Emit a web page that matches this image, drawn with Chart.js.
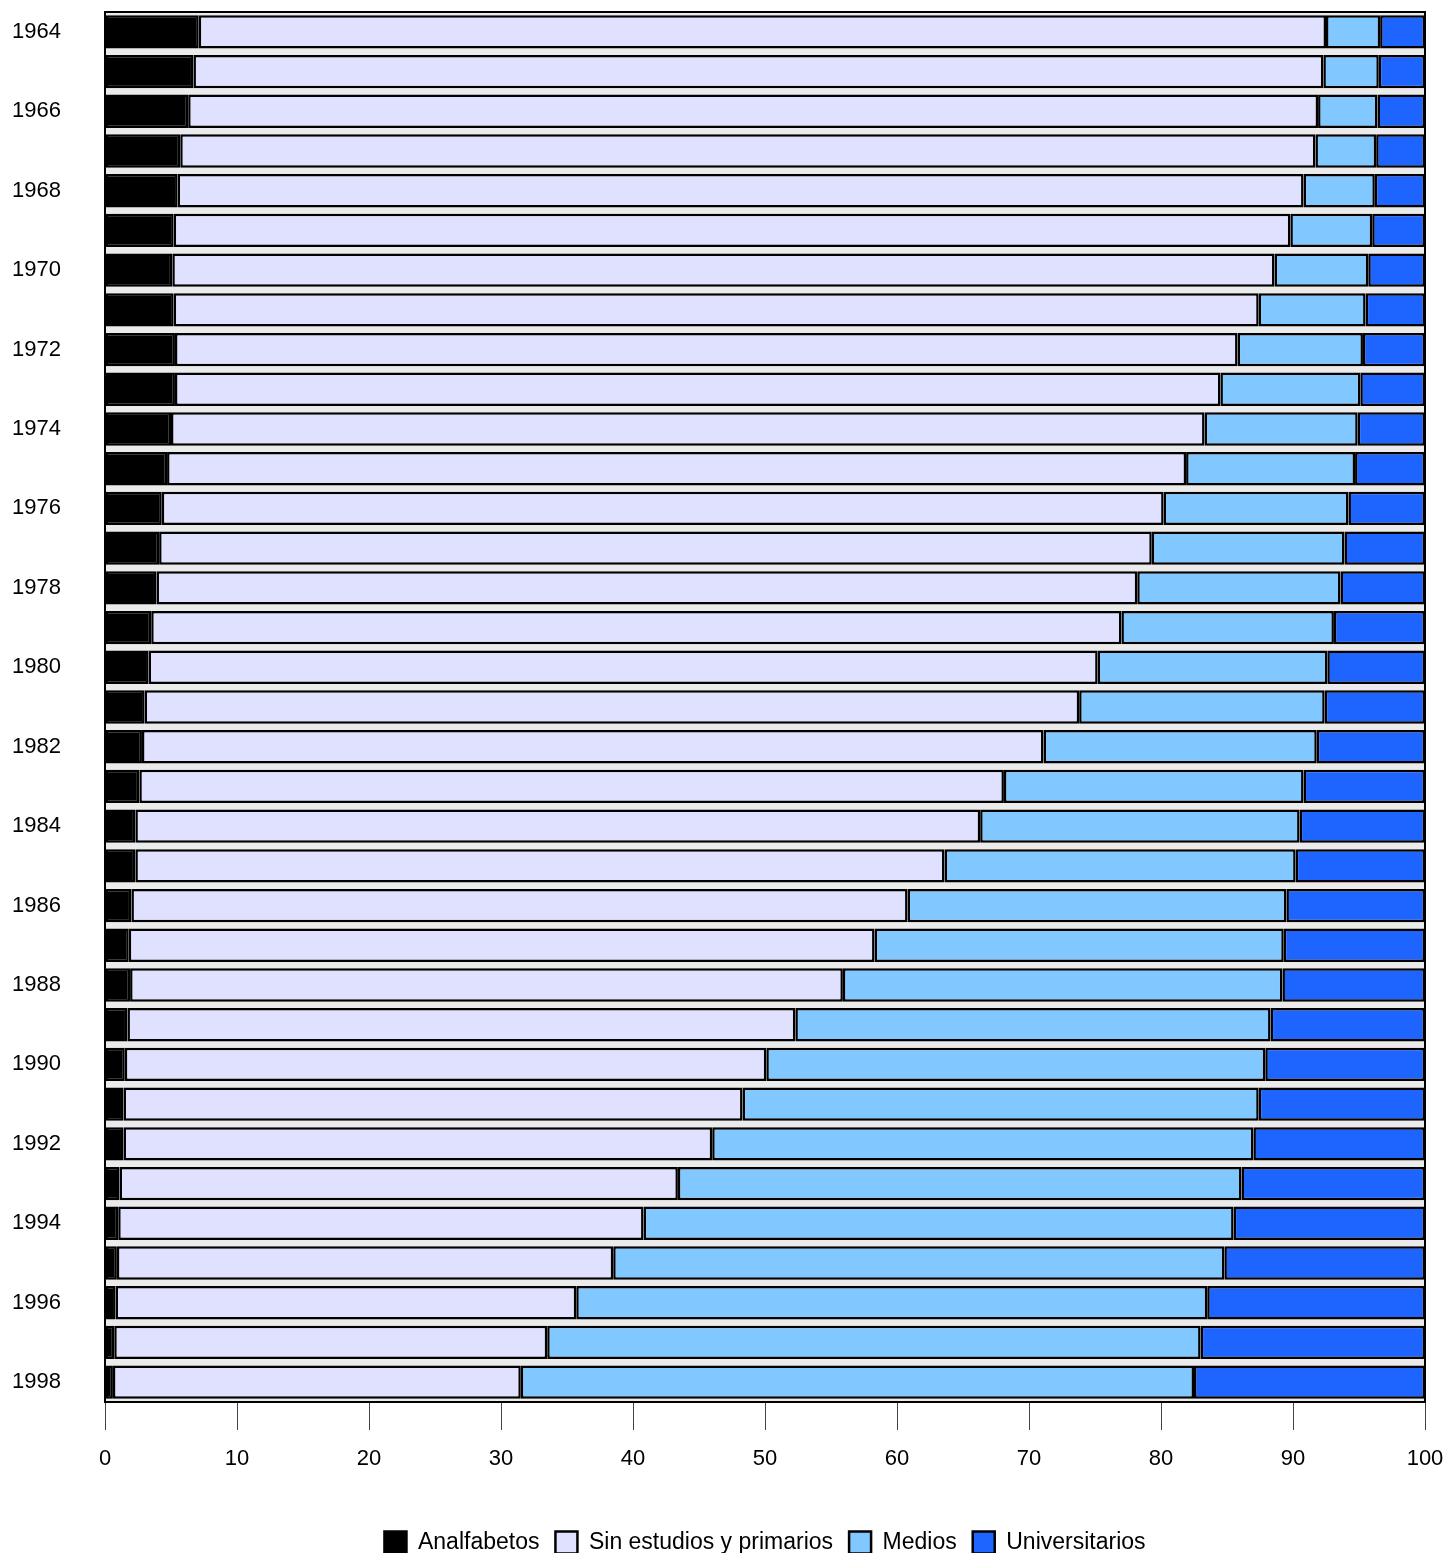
<!DOCTYPE html>
<html>
<head>
<meta charset="utf-8">
<script src="https://cdn.jsdelivr.net/npm/chart.js@4.4.1/dist/chart.umd.min.js"></script>
<style>
  html, body { margin: 0; padding: 0; background: #fff; }
  canvas { display: block; }
</style>
</head>
<body>
<canvas id="chart" width="1447" height="1553"></canvas>
<script>
const years = ['1964', '1965', '1966', '1967', '1968', '1969', '1970', '1971', '1972', '1973',
  '1974', '1975', '1976', '1977', '1978', '1979', '1980', '1981', '1982', '1983',
  '1984', '1985', '1986', '1987', '1988', '1989', '1990', '1991', '1992', '1993',
  '1994', '1995', '1996', '1997', '1998']

const analfabetos = [7.1, 6.7, 6.3, 5.7, 5.5, 5.2, 5.1, 5.2, 5.3, 5.3,
  5.0, 4.7, 4.3, 4.1, 3.9, 3.5, 3.3, 3.0, 2.8, 2.6,
  2.3, 2.3, 2.0, 1.8, 1.9, 1.7, 1.5, 1.4, 1.4, 1.1,
  1.0, 0.9, 0.8, 0.7, 0.6]

const sinEstudios = [85.4, 85.6, 85.6, 86.0, 85.3, 84.6, 83.5, 82.2, 80.5, 79.2,
  78.3, 77.2, 75.9, 75.2, 74.3, 73.5, 71.9, 70.8, 68.3, 65.5,
  64.0, 61.3, 58.8, 56.5, 54.0, 50.6, 48.6, 46.9, 44.6, 42.3,
  39.8, 37.6, 34.9, 32.8, 30.9]

const medios = [4.1, 4.2, 4.5, 4.6, 5.4, 6.2, 7.1, 8.1, 9.5, 10.6,
  11.6, 12.8, 14.0, 14.6, 15.4, 16.1, 17.4, 18.6, 20.7, 22.7,
  24.2, 26.6, 28.7, 31.0, 33.3, 36.0, 37.8, 39.1, 41.0, 42.7,
  44.7, 46.3, 47.8, 49.5, 51.0]

const universitarios = [3.4, 3.5, 3.6, 3.7, 3.8, 4.0, 4.3, 4.5, 4.7, 4.9,
  5.1, 5.3, 5.8, 6.1, 6.4, 6.9, 7.4, 7.6, 8.2, 9.2,
  9.5, 9.8, 10.5, 10.7, 10.8, 11.7, 12.1, 12.6, 13.0, 13.9,
  14.5, 15.2, 16.5, 17.0, 17.5]

const xTicks = [0, 10, 20, 30, 40, 50, 60, 70, 80, 90, 100]

const FONT = "'Liberation Sans', Arial, sans-serif"

// gray plot background and black frame round the plot area
const framePlugin = {
  id: 'frame',
  beforeDatasetsDraw(chart) {
    const { ctx, chartArea: a } = chart
    ctx.save()
    ctx.fillStyle = '#ebebeb'
    ctx.fillRect(a.left, a.top, a.right - a.left, a.bottom - a.top)
    ctx.restore()
  },
  afterDatasetsDraw(chart) {
    const { ctx, chartArea: a } = chart
    ctx.save()
    ctx.strokeStyle = '#000'
    ctx.lineWidth = 2
    ctx.strokeRect(a.left, a.top, a.right - a.left, a.bottom - a.top)
    ctx.restore()
  }
}

const makeSet = (label, data, color) => ({
  label,
  data,
  backgroundColor: color,
  borderColor: '#000',
  borderWidth: 2.5,
  borderSkipped: false,
  barPercentage: 0.84,
  categoryPercentage: 1
})

new Chart(document.getElementById('chart'), {
  type: 'bar',
  data: {
    labels: years,
    datasets: [
      makeSet('Analfabetos', analfabetos, '#000000'),
      makeSet('Sin estudios y primarios', sinEstudios, '#e0e0ff'),
      makeSet('Medios', medios, '#80c8ff'),
      makeSet('Universitarios', universitarios, '#1e64ff')
    ]
  },
  options: {
    indexAxis: 'y',
    responsive: false,
    animation: false,
    devicePixelRatio: 1,
    layout: { padding: { top: 12, left: 12, right: 22, bottom: -11 } },
    plugins: {
      legend: {
        position: 'bottom',
        fullSize: false,
        labels: {
          boxWidth: 22,
          boxHeight: 22,
          padding: 16,
          color: '#000',
          font: { family: FONT, size: 23 }
        }
      },
      tooltip: { enabled: false }
    },
    scales: {
      x: {
        stacked: true,
        min: 0,
        max: 100,
        afterBuildTicks: (scale) => { scale.ticks = xTicks.map(v => ({ value: v })) },
        afterFit: (scale) => {
          scale.height = 113
          scale.paddingLeft = 0
          scale.paddingRight = 0
        },
        grid: {
          drawOnChartArea: false,
          drawTicks: true,
          tickLength: 28,
          color: '#444',
          lineWidth: 1
        },
        border: { display: false },
        ticks: {
          padding: 16,
          maxRotation: 0,
          color: '#000',
          font: { family: FONT, size: 22 }
        }
      },
      y: {
        stacked: true,
        afterFit: (scale) => {
          scale.width = 93
          scale.paddingTop = 0
          scale.paddingBottom = 0
        },
        grid: { display: false },
        border: { display: false },
        ticks: {
          autoSkip: false,
          crossAlign: 'far',
          color: '#000',
          font: { family: FONT, size: 22 },
          callback: function (value) {
            const y = this.getLabelForValue(value)
            return Number(y) % 2 === 0 ? y : ''
          }
        }
      }
    }
  },
  plugins: [framePlugin]
})
</script>
</body>
</html>
